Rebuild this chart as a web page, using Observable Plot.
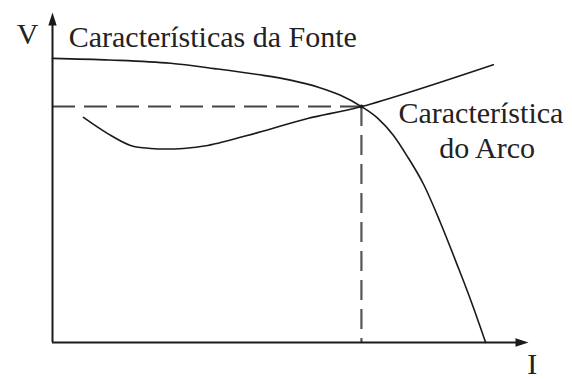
<!DOCTYPE html>
<html>
<head>
<meta charset="utf-8">
<script src="https://cdn.jsdelivr.net/npm/d3@7"></script>
<script src="https://cdn.jsdelivr.net/npm/@observablehq/plot@0.6"></script>
<style>
  html, body { margin: 0; padding: 0; background: #fff; }
  svg { overflow: visible; }
  svg text { font-family: "Liberation Serif", "Times New Roman", serif !important; }
</style>
</head>
<body>
<div id="chart"></div>
<script>
// Source characteristic (Características da Fonte): current I vs voltage V
const sourceI = [0, 12, 24.8, 34, 43.1, 50, 56, 60.5, 64.9, 68.3, 71.6, 74.5, 78.0, 81.5, 85.0, 88.0, 91.0];
const sourceV = [86.1, 85.6, 84.6, 83.0, 81.2, 79.5, 77.3, 74.9, 71.5, 68.0, 62.8, 56.5, 47.8, 36.3, 23.6, 12.3, 0];

// Arc characteristic (Característica do Arco)
const arcI = [6.5, 11.6, 16.4, 20.6, 27.5, 32.6, 43.1, 53.6, 64.9, 92.6];
const arcV = [68.2, 63.3, 59.7, 58.8, 58.8, 59.7, 63.6, 67.9, 71.5, 84.2];

// Operating point (intersection)
const opI = 64.9;
const opV = 71.5;

// Labels
const labelTexts = ["V", "Características da Fonte", "Característica", "do Arco", "I"];
const labelI = [-5.25, 3.4, 90.0, 91.3, 100.8];
const labelV = [90.6, 89.4, 66.4, 55.8, -9.4];
const labelAnchor = ["middle", "start", "middle", "middle", "middle"];

const source = sourceI.map((d, i) => ({I: d, V: sourceV[i]}));
const arc = arcI.map((d, i) => ({I: d, V: arcV[i]}));
const labels = labelTexts.map((t, i) => ({text: t, I: labelI[i], V: labelV[i], anchor: labelAnchor[i]}));

// arrowhead symbol: tip at origin, body below
const arrowHead = {
  draw(context) {
    context.moveTo(0, 0);
    context.lineTo(4.2, 13);
    context.lineTo(-4.2, 13);
    context.closePath();
  }
};

const ink = "#1a1a1a";
const font = "Liberation Serif";

const textOpts = {
  x: "I", y: "V", text: "text",
  lineAnchor: "bottom",
  fontSize: 30,
  fontFamily: font,
  fill: "#222"
};

const chart = Plot.plot({
  width: 572,
  height: 379,
  marginLeft: 52,
  marginRight: 44,
  marginTop: 12,
  marginBottom: 37,
  x: {domain: [0, 100], axis: null},
  y: {domain: [0, 100], axis: null},
  style: {fontFamily: font, background: "#fff"},
  marks: [
    // dashed guides to the operating point
    Plot.ruleY([opV], {x1: 0, x2: opI, stroke: "#444", strokeWidth: 2, strokeDasharray: "23,9"}),
    Plot.ruleX([opI], {y1: opV, y2: 0, stroke: "#555", strokeWidth: 2.2, strokeDasharray: "20,9"}),
    // axes
    Plot.ruleX([0], {y1: 0, y2: 97, stroke: ink, strokeWidth: 2}),
    Plot.ruleY([0], {x1: 0, x2: 98, stroke: ink, strokeWidth: 2}),
    Plot.dot([{I: 0, V: 100}], {x: "I", y: "V", symbol: arrowHead, fill: ink, stroke: "none", r: 5}),
    Plot.dot([{I: 100, V: 0}], {x: "I", y: "V", symbol: arrowHead, fill: ink, stroke: "none", r: 5, rotate: 90}),
    // curves
    Plot.line(source, {x: "I", y: "V", curve: "monotone-x", stroke: ink, strokeWidth: 1.6}),
    Plot.line(arc, {x: "I", y: "V", curve: "catmull-rom", stroke: ink, strokeWidth: 1.6}),
    Plot.dot([{I: opI, V: opV}], {x: "I", y: "V", r: 2, fill: ink, stroke: "none"}),
    // labels
    Plot.text(labels.filter(d => d.anchor === "start"), {...textOpts, textAnchor: "start"}),
    Plot.text(labels.filter(d => d.anchor === "middle"), {...textOpts, textAnchor: "middle"})
  ]
});

document.getElementById("chart").appendChild(chart);
</script>
</body>
</html>
